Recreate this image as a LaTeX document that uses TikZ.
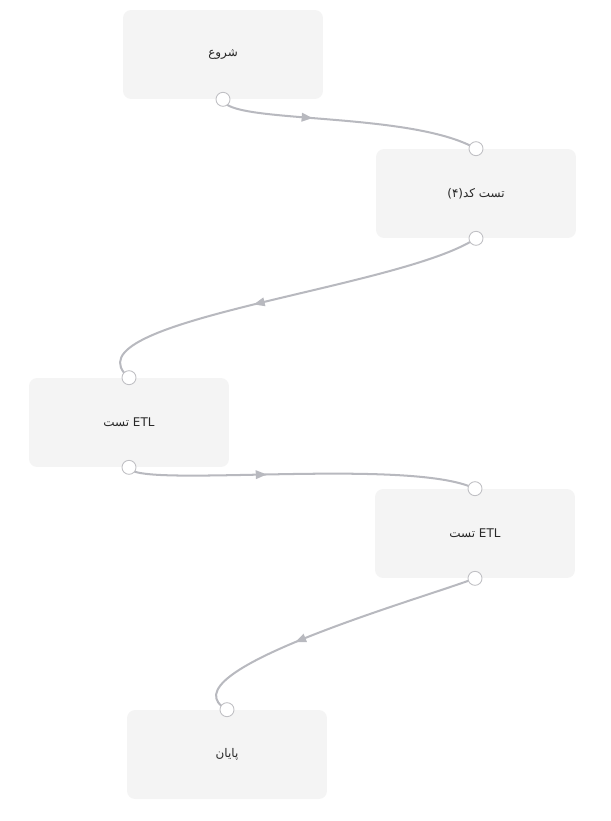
\documentclass[tikz,border=0pt]{standalone}
\usepackage{fontspec}
\usetikzlibrary{arrows.meta,decorations.markings}
\TeXXeTstate=1
\newfontfamily\farsi[Script=Arabic]{DejaVu Sans}
\definecolor{blokgrijs}{RGB}{244,244,244}
\definecolor{lijngrijs}{RGB}{184,185,191}
\definecolor{poortrand}{RGB}{192,192,196}
\definecolor{tekstkleur}{RGB}{40,40,40}
\pgfdeclarelayer{achter}
\pgfsetlayers{achter,main}

\begin{document}
\begin{tikzpicture}[
       x=0.02cm, y=-0.02cm,
       blok/.style={
         rectangle,
         rounded corners=0.16cm,
         fill=blokgrijs,
         minimum width=4cm,
         minimum height=1.78cm,
         text=tekstkleur,
         font=\farsi\fontsize{6.8}{8.2}\selectfont
       },
       poort/.style={
         circle,
         draw=poortrand,
         fill=white,
         line width=0.5pt,
         inner sep=0pt,
         minimum size=0.28cm
       },
       lijn/.style={
         draw=lijngrijs,
         line width=1.15pt
       },
       pijl/.style={
         decoration={markings,
           mark=at position #1 with {\arrow[lijngrijs]{Triangle[length=0.22cm,width=0.17cm]}}},
         postaction={decorate}
       }
     ]

       \useasboundingbox (0,0) rectangle (611,821);

       \node (b1) at (223,54.5) [blok] {\beginR شروع\endR};
       \node (b2) at (476,193.5) [blok] {\beginR تست کد(۴)\endR};
       \node (b3) at (129,422.5) [blok] {تست ETL};
       \node (b4) at (475,533.5) [blok] {تست ETL};
       \node (b5) at (227,754.5) [blok] {\beginR پایان\endR};

       \node (b1u) at (b1.south) [poort]{};
       \node (b2i) at (b2.north) [poort]{};
       \node (b2u) at (b2.south) [poort]{};
       \node (b3i) at (b3.north) [poort]{};
       \node (b3u) at (b3.south) [poort]{};
       \node (b4i) at (b4.north) [poort]{};
       \node (b4u) at (b4.south) [poort]{};
       \node (b5i) at (b5.north) [poort]{};

       \begin{pgfonlayer}{achter}
       \draw[lijn,pijl=0.36] (b1u.center) .. controls +(2,25) and +(-66,-38) .. (b2i.center);
       \draw[lijn,pijl=0.58] (b2u.center) .. controls +(-76,51) and +(-68,-57) .. (b3i.center);
       \draw[lijn,pijl=0.40] (b3u.center) .. controls +(2,22) and +(-65,-32) .. (b4i.center);
       \draw[lijn,pijl=0.62] (b4u.center) .. controls +(-55,21) and +(-67,-37) .. (b5i.center);
       \end{pgfonlayer}

\end{tikzpicture}
\end{document}
